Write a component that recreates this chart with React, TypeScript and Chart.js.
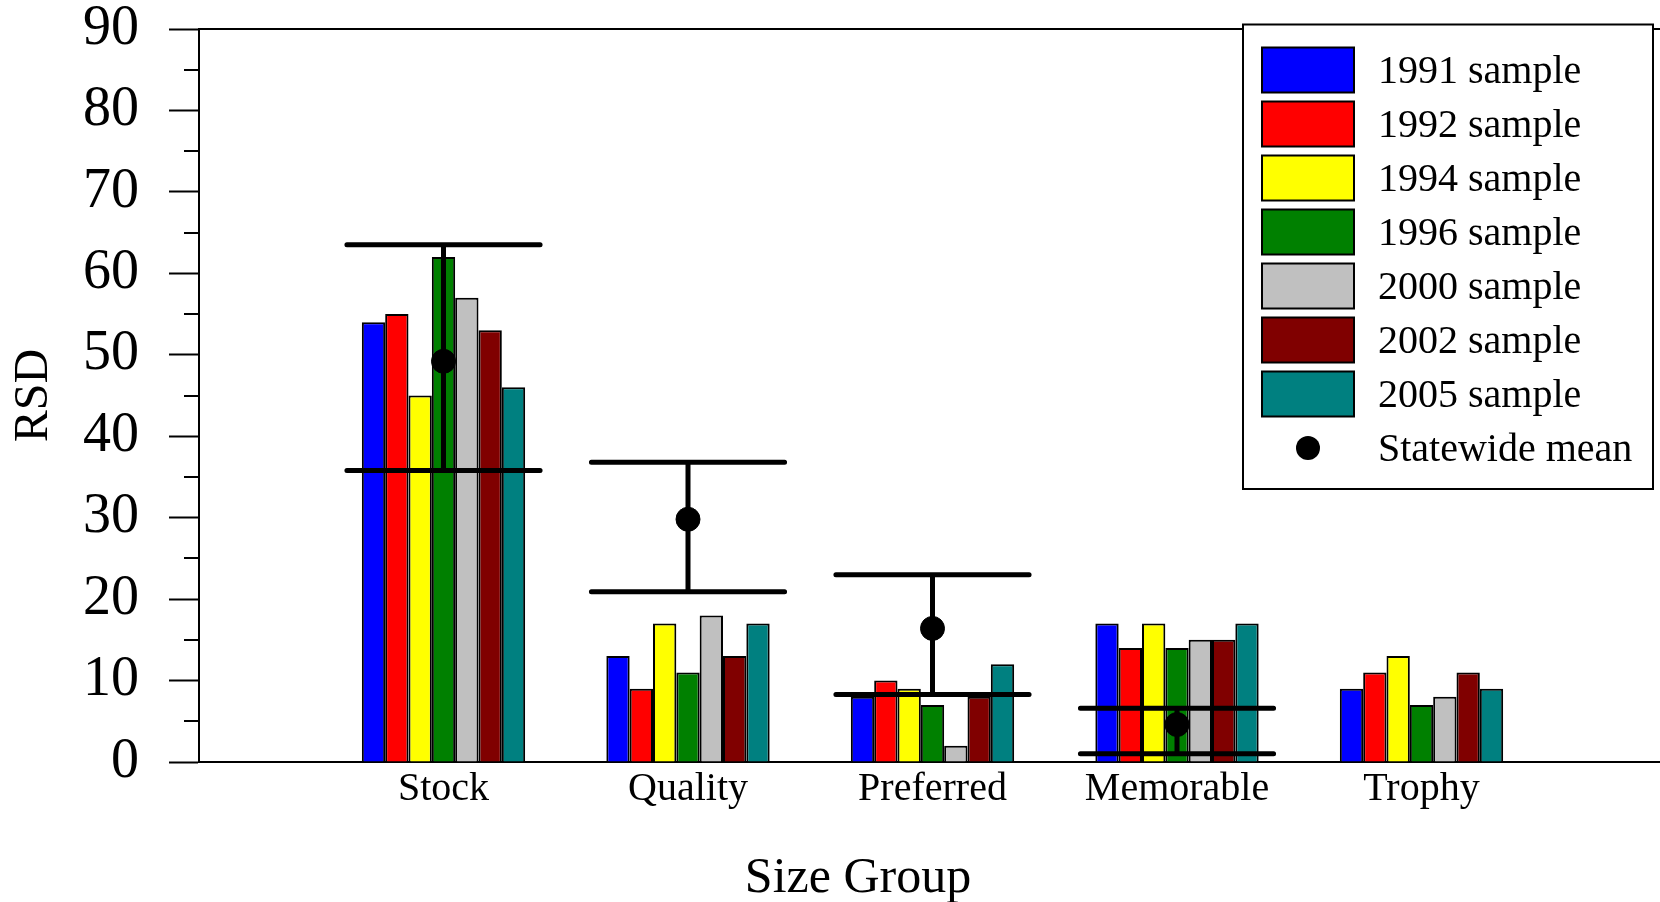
import React, { useEffect, useRef } from "react";
import { Chart, registerables } from "chart.js";

Chart.register(...registerables);

// ---------- data ----------
const categories = ["Stock", "Quality", "Preferred", "Memorable", "Trophy"];
const categoryPositions = [1, 2, 3, 4, 5];

const sampleLabels = [
  "1991 sample",
  "1992 sample",
  "1994 sample",
  "1996 sample",
  "2000 sample",
  "2002 sample",
  "2005 sample",
];
const sampleColors = ["#0000FF", "#FF0000", "#FFFF00", "#008000", "#C0C0C0", "#800000", "#008080"];

const s1991 = [54, 13, 8, 17, 9];
const s1992 = [55, 9, 10, 14, 11];
const s1994 = [45, 17, 9, 17, 13];
const s1996 = [62, 11, 7, 14, 7];
const s2000 = [57, 18, 2, 15, 8];
const s2002 = [53, 13, 8, 15, 11];
const s2005 = [46, 17, 12, 17, 9];
const sampleSeries = [s1991, s1992, s1994, s1996, s2000, s2002, s2005];

const meanLabel = "Statewide mean";
const meanValues = [49.2, 29.8, 16.4, 4.6];
const meanUpper = [63.5, 36.8, 23.0, 6.6];
const meanLower = [35.8, 20.9, 8.3, 1.0];

const yMin = 0;
const yMax = 90;
const yStep = 10;
const yMinorValues = [5, 15, 25, 35, 45, 55, 65, 75, 85];
const xMin = 0;
const xMax = 6;

const yTitle = "RSD";
const xTitle = "Size Group";

// ---------- styling ----------
const FONT = '"Liberation Serif", "Times New Roman", Times, serif';
const CANVAS_W = 1666;
const CANVAS_H = 902;
const MEAN_INDEX = sampleSeries.length;
const CAP_HALF = 0.395;

const decorPlugin = {
  id: "decor",
  beforeDatasetDraw(chart: any, args: any) {
    if (args.index !== MEAN_INDEX) return;
    const { ctx } = chart;
    const x = chart.scales.x;
    const y = chart.scales.y;
    ctx.save();
    ctx.strokeStyle = "#000";
    ctx.lineWidth = 5;
    ctx.lineCap = "round";
    meanValues.forEach((_m, i) => {
      const pos = categoryPositions[i];
      const cx = x.getPixelForValue(pos);
      const xl = x.getPixelForValue(pos - CAP_HALF);
      const xr = x.getPixelForValue(pos + CAP_HALF);
      const yu = y.getPixelForValue(meanUpper[i]);
      const yl = y.getPixelForValue(meanLower[i]);
      ctx.beginPath();
      ctx.moveTo(cx, yu);
      ctx.lineTo(cx, yl);
      ctx.moveTo(xl, yu);
      ctx.lineTo(xr, yu);
      ctx.moveTo(xl, yl);
      ctx.lineTo(xr, yl);
      ctx.stroke();
    });
    ctx.restore();
  },
  afterDraw(chart: any) {
    const { ctx, chartArea } = chart;
    const y = chart.scales.y;
    ctx.save();
    // top frame line
    ctx.strokeStyle = "#000";
    ctx.lineWidth = 2;
    ctx.beginPath();
    ctx.moveTo(chartArea.left, chartArea.top);
    ctx.lineTo(chartArea.right, chartArea.top);
    ctx.stroke();
    // minor ticks
    ctx.beginPath();
    yMinorValues.forEach((v) => {
      const py = Math.round(y.getPixelForValue(v));
      ctx.moveTo(chartArea.left - 15, py);
      ctx.lineTo(chartArea.left, py);
    });
    ctx.stroke();

    // legend
    const bx = 1243;
    const by = 24.5;
    const bw = 410;
    const bh = 464.5;
    ctx.fillStyle = "#fff";
    ctx.fillRect(bx, by, bw, bh);
    ctx.lineWidth = 2;
    ctx.strokeStyle = "#000";
    ctx.strokeRect(bx, by, bw, bh);
    const swX = 1262;
    const swW = 92;
    const swH = 45;
    const rowTop = 47.5;
    const pitch = 54;
    ctx.font = `40px ${FONT}`;
    ctx.textAlign = "left";
    ctx.textBaseline = "middle";
    chart.data.datasets.forEach((ds: any, i: number) => {
      const top = rowTop + i * pitch;
      const cy = top + swH / 2;
      if (i < MEAN_INDEX) {
        ctx.fillStyle = ds.backgroundColor;
        ctx.fillRect(swX, top, swW, swH);
        ctx.lineWidth = 2;
        ctx.strokeStyle = "#000";
        ctx.strokeRect(swX, top, swW, swH);
      } else {
        ctx.fillStyle = "#000";
        ctx.beginPath();
        ctx.arc(swX + swW / 2, cy, 12, 0, Math.PI * 2);
        ctx.fill();
      }
      ctx.fillStyle = "#000";
      ctx.fillText(ds.label, 1378, cy + 2);
    });

    // x axis title
    ctx.font = `50px ${FONT}`;
    ctx.textAlign = "center";
    ctx.textBaseline = "alphabetic";
    ctx.fillStyle = "#000";
    ctx.fillText(xTitle, 858, 892);
    ctx.restore();
  },
};

export default function App() {
  const canvasRef = useRef<HTMLCanvasElement | null>(null);

  useEffect(() => {
    if (!canvasRef.current) return;
    const barDatasets = sampleSeries.map((series, i) => ({
      type: "bar" as const,
      label: sampleLabels[i],
      data: series.map((v, j) => ({ x: categoryPositions[j], y: v })),
      backgroundColor: sampleColors[i],
      borderColor: "#000",
      borderWidth: 2,
      borderSkipped: "start",
      categoryPercentage: 0.668,
      barPercentage: 1.0,
      order: 1,
    }));
    const meanDataset = {
      type: "scatter" as const,
      label: meanLabel,
      data: meanValues.map((v, j) => ({ x: categoryPositions[j], y: v })),
      backgroundColor: "#000",
      borderColor: "#000",
      pointRadius: 12,
      pointHoverRadius: 12,
      showLine: false,
      order: -1,
    };

    const chart = new Chart(canvasRef.current, {
      type: "bar",
      data: { datasets: [...barDatasets, meanDataset] as any },
      options: {
        animation: false,
        responsive: false,
        maintainAspectRatio: false,
        layout: { autoPadding: false, padding: { top: 29, left: 0, right: 0, bottom: 0 } },
        plugins: {
          legend: { display: false },
          tooltip: { enabled: false },
        },
        scales: {
          x: {
            type: "linear",
            min: xMin,
            max: xMax,
            offset: false,
            afterBuildTicks: (scale: any) => {
              scale.ticks = categoryPositions.map((v) => ({ value: v }));
            },
            afterFit: (scale: any) => {
              scale.height = CANVAS_H - 762;
              scale.paddingLeft = 0;
              scale.paddingRight = 0;
              scale.paddingTop = 0;
              scale.paddingBottom = 0;
            },
            ticks: {
              autoSkip: false,
              maxRotation: 0,
              minRotation: 0,
              padding: 3,
              color: "#000",
              font: { family: FONT, size: 40 },
              callback: (value: any) => {
                const idx = categoryPositions.indexOf(Number(value));
                return idx >= 0 ? categories[idx] : "";
              },
            },
            grid: { display: true, drawOnChartArea: false, drawTicks: false, color: "#000" },
            border: { display: true, color: "#000", width: 2 },
          },
          y: {
            type: "linear",
            min: yMin,
            max: yMax,
            afterFit: (scale: any) => {
              scale.width = 199;
              scale.paddingTop = 0;
              scale.paddingBottom = 0;
              scale.paddingLeft = 0;
              scale.paddingRight = 0;
            },
            ticks: {
              stepSize: yStep,
              padding: 30,
              color: "#000",
              font: { family: FONT, size: 56 },
            },
            grid: {
              display: true,
              drawOnChartArea: false,
              drawTicks: true,
              tickLength: 30,
              tickWidth: 2,
              tickColor: "#000",
              color: "#000",
            },
            border: { display: true, color: "#000", width: 2 },
            title: {
              display: true,
              text: yTitle,
              color: "#000",
              font: { family: FONT, size: 48 },
              padding: { top: 6, bottom: 0 },
            },
          },
        },
      } as any,
      plugins: [decorPlugin],
    });
    return () => chart.destroy();
  }, []);

  return (
    <div
      style={{
        position: "fixed",
        left: 0,
        top: 0,
        width: 1660,
        height: 902,
        overflow: "hidden",
        background: "#fff",
      }}
    >
      <canvas
        ref={canvasRef}
        width={CANVAS_W}
        height={CANVAS_H}
        style={{ width: CANVAS_W, height: CANVAS_H, display: "block" }}
      />
    </div>
  );
}
